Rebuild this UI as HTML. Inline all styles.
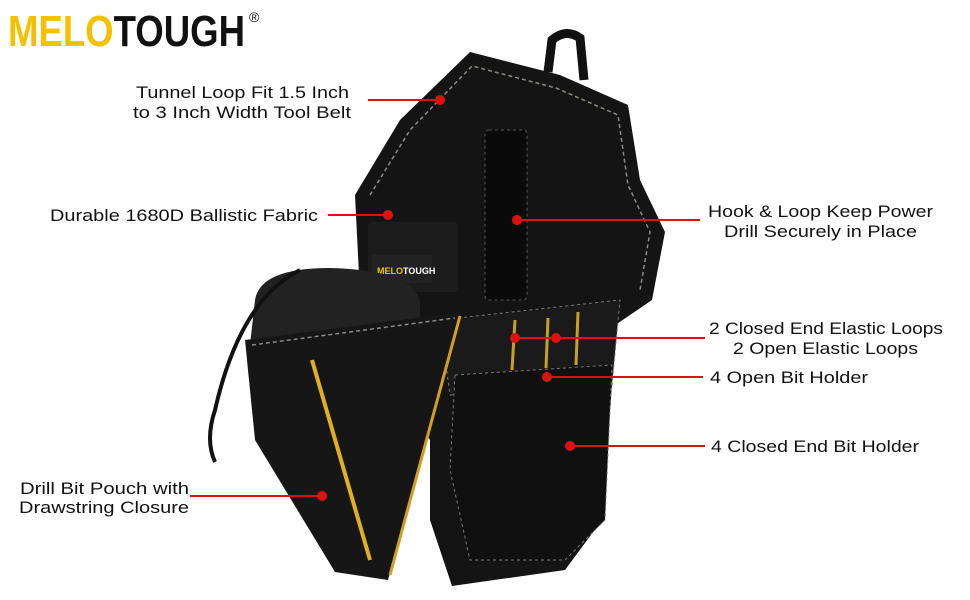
<!DOCTYPE html>
<html><head><meta charset="utf-8"><style>
html,body{margin:0;padding:0;background:#fff;}
body{width:970px;height:600px;overflow:hidden;position:relative;}
svg{position:absolute;left:0;top:0;}
text{font-family:"Liberation Sans",sans-serif;}
</style></head><body>
<svg width="970" height="600" viewBox="0 0 970 600">
<!-- logo -->
<text x="8" y="46" font-size="44" font-weight="bold" fill="#f5c000" textLength="237" lengthAdjust="spacingAndGlyphs">MELO<tspan fill="#111">TOUGH</tspan></text>
<text x="249" y="22" font-size="14" fill="#111">®</text>
<!-- hanging loop -->
<path d="M548 72 L552 40 Q566 28 580 38 L584 80" fill="none" stroke="#111" stroke-width="9"/>
<!-- main body -->
<path d="M355 195 L400 120 L470 52 L560 75 L628 105 L640 180 L665 232 L652 300 L608 330 L612 385 L602 520 L565 570 L452 586 L430 520 L430 440 L362 335 Z" fill="#141414"/>
<path d="M370 195 L410 130 L472 66 L556 88 L618 115 L628 185 L650 232 L640 290" fill="none" stroke="#8a8a80" stroke-width="1.5" stroke-dasharray="4 3"/>
<!-- flap strap -->
<rect x="485" y="130" width="42" height="170" rx="4" fill="#0a0a0a" stroke="#555" stroke-dasharray="3 3"/>
<rect x="368" y="222" width="90" height="70" rx="4" fill="#1c1c1c"/>
<rect x="372" y="255" width="60" height="28" fill="#222"/>
<text x="377" y="274" font-size="9" font-weight="bold" fill="#f5c000">MELO<tspan fill="#fff">TOUGH</tspan></text>
<!-- pockets -->
<path d="M440 320 L620 300 L612 385 L450 395 Z" fill="#1a1a1a" stroke="#777" stroke-dasharray="3 3"/>
<path d="M455 375 L612 365 L605 520 L565 560 L470 560 L450 470 Z" fill="#101010" stroke="#777" stroke-dasharray="3 3"/>
<line x1="515" y1="320" x2="512" y2="370" stroke="#c9a020" stroke-width="3"/>
<line x1="548" y1="318" x2="546" y2="368" stroke="#c9a020" stroke-width="3"/>
<line x1="578" y1="312" x2="576" y2="365" stroke="#c9a020" stroke-width="3"/>
<!-- pouch bag -->
<path d="M255 300 Q260 268 330 268 Q410 270 420 300 L420 340 L250 345 Z" fill="#222"/>
<path d="M300 270 Q240 300 215 410 Q205 440 215 462" fill="none" stroke="#111" stroke-width="4"/>
<!-- pouch front -->
<path d="M245 340 L462 312 L388 580 L335 572 L255 440 Z" fill="#161616"/>
<path d="M312 360 L370 560" stroke="#e0b020" stroke-width="4"/>
<path d="M460 316 L390 575" stroke="#d0a020" stroke-width="3"/>
<path d="M252 345 L455 318" stroke="#888" stroke-width="1.5" stroke-dasharray="4 3"/>
<!-- connectors -->
<g stroke="#e01010" stroke-width="2">
<line x1="368" y1="100" x2="440" y2="100"/>
<line x1="328" y1="215" x2="388" y2="215"/>
<line x1="517" y1="220" x2="700" y2="220"/>
<line x1="515" y1="338" x2="705" y2="338"/>
<line x1="547" y1="377" x2="703" y2="377"/>
<line x1="570" y1="446" x2="705" y2="446"/>
<line x1="190" y1="496" x2="322" y2="496"/>
</g>
<g fill="#e01010">
<circle cx="440" cy="100" r="5"/><circle cx="388" cy="215" r="5"/><circle cx="517" cy="220" r="5"/>
<circle cx="515" cy="338" r="5"/><circle cx="556" cy="338" r="5"/><circle cx="547" cy="377" r="5"/>
<circle cx="570" cy="446" r="5"/><circle cx="322" cy="496" r="5"/>
</g>
<!-- labels -->
<g font-size="17" fill="#111" lengthAdjust="spacingAndGlyphs">
<text x="136" y="98" textLength="213" lengthAdjust="spacingAndGlyphs">Tunnel Loop Fit 1.5 Inch</text>
<text x="133" y="118" textLength="218" lengthAdjust="spacingAndGlyphs">to 3 Inch Width Tool Belt</text>
<text x="50" y="221" textLength="268" lengthAdjust="spacingAndGlyphs">Durable 1680D Ballistic Fabric</text>
<text x="708" y="217" textLength="225" lengthAdjust="spacingAndGlyphs">Hook &amp; Loop Keep Power</text>
<text x="724" y="237" textLength="193" lengthAdjust="spacingAndGlyphs">Drill Securely in Place</text>
<text x="709" y="334" textLength="234" lengthAdjust="spacingAndGlyphs">2 Closed End Elastic Loops</text>
<text x="733" y="354" textLength="185" lengthAdjust="spacingAndGlyphs">2 Open Elastic Loops</text>
<text x="710" y="383" textLength="158" lengthAdjust="spacingAndGlyphs">4 Open Bit Holder</text>
<text x="711" y="452" textLength="208" lengthAdjust="spacingAndGlyphs">4 Closed End Bit Holder</text>
<text x="20" y="494" textLength="169" lengthAdjust="spacingAndGlyphs">Drill Bit Pouch with</text>
<text x="19" y="513" textLength="170" lengthAdjust="spacingAndGlyphs">Drawstring Closure</text>
</g>
</svg>
</body></html>
